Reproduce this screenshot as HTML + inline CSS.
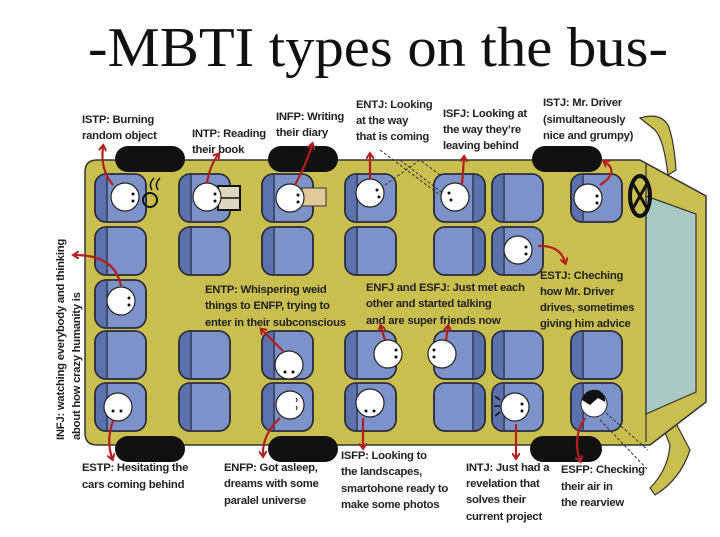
<!DOCTYPE html>
<html><head><meta charset="utf-8"><style>
html,body{margin:0;padding:0;background:#fff;}
svg{display:block}
.t{font-family:"Liberation Sans",sans-serif;font-weight:bold;font-size:11.3px;fill:#222;letter-spacing:-0.25px}
</style></head><body>
<svg width="720" height="537" viewBox="0 0 720 537" xmlns="http://www.w3.org/2000/svg">
<defs>
<marker id="ah" markerWidth="8" markerHeight="8" refX="4" refY="4" orient="auto" markerUnits="userSpaceOnUse">
<path d="M0,0 L6,4 L0,8" fill="none" stroke="#b21e1e" stroke-width="2"/></marker>
<g id="seat"><rect x="0" y="0" width="51" height="48" rx="11" fill="#7d92c9" stroke="#2a2a3a" stroke-width="1.6"/><path d="M11,1 L11,47 L10,47 Q1,47 1,37 L1,11 Q1,1 10,1 Z" fill="#5b72ad"/><line x1="12" y1="1" x2="12" y2="47" stroke="#1f2540" stroke-width="1.3"/><rect x="0" y="0" width="51" height="48" rx="11" fill="none" stroke="#2a2a3a" stroke-width="1.6"/></g>
<g id="seatR"><rect x="0" y="0" width="51" height="48" rx="11" fill="#7d92c9" stroke="#2a2a3a" stroke-width="1.6"/><path d="M40,1 L40,47 L41,47 Q50,47 50,37 L50,11 Q50,1 41,1 Z" fill="#5b72ad"/><line x1="39" y1="1" x2="39" y2="47" stroke="#1f2540" stroke-width="1.3"/><rect x="0" y="0" width="51" height="48" rx="11" fill="none" stroke="#2a2a3a" stroke-width="1.6"/></g>
</defs>
<text x="88" y="66" textLength="580" lengthAdjust="spacingAndGlyphs" font-family="Liberation Serif,serif" font-size="56" fill="#111">-MBTI types on the bus-</text>

<!-- mirror pieces -->
<path d="M640,118 Q660,112 668,125 Q674,140 676,170 L668,175 Q664,140 655,130 Z" fill="#c9bf4f" stroke="#333" stroke-width="1.2"/>
<path d="M668,408 L690,450 Q680,480 655,495 L650,488 Q668,470 670,445 L660,420 Z" fill="#c9bf4f" stroke="#333" stroke-width="1.2"/>
<!-- body -->
<path d="M85,172 Q85,160 97,160 L640,160 L706,196 L706,402 L650,445 L97,445 Q85,445 85,433 Z" fill="#c9bf4f" stroke="#333" stroke-width="1.5"/>
<path d="M646,196 L696,214 L696,392 L646,414 Z" fill="#a9c8c0" stroke="#333" stroke-width="1.2"/>
<line x1="646" y1="164" x2="646" y2="442" stroke="#333" stroke-width="1.2"/>
<!-- wheel -->
<ellipse cx="640" cy="196" rx="10" ry="20" fill="none" stroke="#111" stroke-width="4"/>
<path d="M632,182 L648,210 M648,182 L632,210" stroke="#111" stroke-width="3"/>
<!-- tires -->
<rect x="115" y="146" width="70" height="26" rx="13" fill="#111"/>
<rect x="268" y="146" width="70" height="26" rx="13" fill="#111"/>
<rect x="532" y="146" width="70" height="26" rx="13" fill="#111"/>
<rect x="115" y="436" width="70" height="26" rx="13" fill="#111"/>
<rect x="268" y="436" width="70" height="26" rx="13" fill="#111"/>
<rect x="530" y="436" width="72" height="26" rx="13" fill="#111"/>
<!-- seats -->
<use href="#seat" x="95" y="174"/><use href="#seat" x="95" y="227"/><use href="#seat" x="95" y="280"/><use href="#seat" x="95" y="331"/><use href="#seat" x="95" y="383"/>
<use href="#seat" x="179" y="174"/><use href="#seat" x="179" y="227"/><use href="#seat" x="179" y="331"/><use href="#seat" x="179" y="383"/>
<use href="#seat" x="262" y="174"/><use href="#seat" x="262" y="227"/><use href="#seat" x="262" y="331"/><use href="#seat" x="262" y="383"/>
<use href="#seat" x="345" y="174"/><use href="#seat" x="345" y="227"/><use href="#seat" x="345" y="331"/><use href="#seat" x="345" y="383"/>
<use href="#seatR" x="434" y="174"/><use href="#seatR" x="434" y="227"/><use href="#seatR" x="434" y="331"/><use href="#seatR" x="434" y="383"/>
<use href="#seat" x="492" y="174"/><use href="#seat" x="492" y="227"/><use href="#seat" x="492" y="331"/><use href="#seat" x="492" y="383"/>
<use href="#seat" x="571" y="174"/><use href="#seat" x="571" y="331"/><use href="#seat" x="571" y="383"/>
<!-- props -->
<rect x="218" y="186" width="22" height="24" fill="#ddd6c0" stroke="#111" stroke-width="2"/><line x1="218" y1="198" x2="240" y2="198" stroke="#111" stroke-width="1.5"/>
<rect x="302" y="188" width="24" height="18" fill="#e2c99a" stroke="#333"/>
<circle cx="150" cy="200" r="7" fill="none" stroke="#111" stroke-width="2"/><path d="M152,190 q-4,-6 2,-12 M158,190 q-4,-6 2,-12" fill="none" stroke="#111" stroke-width="1.5"/>
<!-- dashed sight lines -->
<g stroke="#333" stroke-dasharray="3,2" stroke-width="1" fill="none">
<path d="M385,185 L420,160 L440,175 M400,160 L445,195 M380,150 L440,195"/>
<path d="M606,413 L648,450 M600,420 L648,470"/>
</g>
<!-- faces -->
<g fill="#fff" stroke="#222" stroke-width="1.2">
<circle cx="125" cy="197" r="14"/><circle cx="207" cy="197" r="14"/><circle cx="290" cy="198" r="14"/><circle cx="370" cy="193" r="14"/>
<circle cx="455" cy="197" r="14"/><circle cx="588" cy="198" r="14"/><circle cx="518" cy="250" r="14"/><circle cx="121" cy="301" r="14"/>
<circle cx="289" cy="365" r="14"/><circle cx="290" cy="405" r="14"/><circle cx="388" cy="354" r="14"/><circle cx="442" cy="354" r="14"/>
<circle cx="370" cy="403" r="14"/><circle cx="515" cy="407" r="14"/><circle cx="118" cy="407" r="14"/>
</g>
<circle cx="594" cy="404" r="13" fill="#fff" stroke="#222"/><path d="M582,400 Q585,388 598,390 Q606,394 605,402 L598,398 L590,405 Z" fill="#111"/>
<g fill="#111"><circle cx="133" cy="194" r="1.5"/><circle cx="133" cy="201" r="1.5"/><circle cx="215" cy="194" r="1.5"/><circle cx="215" cy="201" r="1.5"/><circle cx="298" cy="195" r="1.5"/><circle cx="298" cy="202" r="1.5"/><circle cx="377" cy="190" r="1.5"/><circle cx="379" cy="197" r="1.5"/><circle cx="449" cy="193" r="1.5"/><circle cx="451" cy="200" r="1.5"/><circle cx="597" cy="196" r="1.5"/><circle cx="597" cy="203" r="1.5"/><circle cx="526" cy="247" r="1.5"/><circle cx="526" cy="254" r="1.5"/><circle cx="129" cy="298" r="1.5"/><circle cx="129" cy="305" r="1.5"/><circle cx="285" cy="372" r="1.5"/><circle cx="293" cy="372" r="1.5"/><circle cx="396" cy="350" r="1.5"/><circle cx="396" cy="357" r="1.5"/><circle cx="434" cy="350" r="1.5"/><circle cx="434" cy="357" r="1.5"/><circle cx="366" cy="411" r="1.5"/><circle cx="374" cy="411" r="1.5"/><circle cx="522" cy="404" r="1.5"/><circle cx="522" cy="411" r="1.5"/><circle cx="113" cy="411" r="1.5"/><circle cx="121" cy="411" r="1.5"/></g>
<path d="M296,398 q2,2 0,4 M296,406 q2,2 0,4" stroke="#222" fill="none"/>
<path d="M500,400 L495,396 M500,406 L494,406 M500,412 L495,416" stroke="#111" stroke-width="1.5"/>
<!-- arrows -->
<g fill="none" stroke="#b21e1e" stroke-width="2.2" marker-end="url(#ah)">
<path d="M113,185 Q100,170 103,147"/>
<path d="M207,183 Q210,165 218,155"/>
<path d="M295,185 Q308,160 312,145"/>
<path d="M370,179 L370,155"/>
<path d="M462,184 L464,158"/>
<path d="M600,185 Q620,172 605,162"/>
<path d="M538,246 Q560,245 565,262"/>
<path d="M121,286 Q115,255 75,255"/>
<path d="M283,351 Q272,340 262,330"/>
<path d="M385,340 L381,327"/>
<path d="M446,340 L448,327"/>
<path d="M113,421 Q106,440 112,458"/>
<path d="M280,418 Q262,435 263,455"/>
<path d="M363,418 L363,447"/>
<path d="M516,424 L516,457"/>
<path d="M585,418 Q572,438 580,460"/>
</g>
<!-- labels -->
<text class="t" x="82" y="123">ISTP: Burning</text><text class="t" x="82" y="139">random object</text>
<text class="t" x="192" y="137">INTP: Reading</text><text class="t" x="192" y="153">their book</text>
<text class="t" x="276" y="120">INFP: Writing</text><text class="t" x="276" y="136">their diary</text>
<text class="t" x="356" y="108">ENTJ: Looking</text><text class="t" x="356" y="124">at the way</text><text class="t" x="356" y="140">that is coming</text>
<text class="t" x="443" y="117">ISFJ: Looking at</text><text class="t" x="443" y="133">the way they’re</text><text class="t" x="443" y="149">leaving behind</text>
<text class="t" x="543" y="106">ISTJ: Mr. Driver</text><text class="t" x="543" y="123">(simultaneously</text><text class="t" x="543" y="139">nice and grumpy)</text>
<text class="t" transform="translate(64,440) rotate(-90)">INFJ: watching everybody and thinking</text>
<text class="t" transform="translate(80,440) rotate(-90)">about how crazy humanity is</text>
<text class="t" x="205" y="293">ENTP: Whispering weid</text><text class="t" x="205" y="309">things to ENFP, trying to</text><text class="t" x="205" y="326">enter in their subconscious</text>
<text class="t" x="366" y="291">ENFJ and ESFJ: Just met each</text><text class="t" x="366" y="307">other and started talking</text><text class="t" x="366" y="324">and are super friends now</text>
<text class="t" x="540" y="279">ESTJ: Cheching</text><text class="t" x="540" y="295">how Mr. Driver</text><text class="t" x="540" y="311">drives, sometimes</text><text class="t" x="540" y="327">giving him advice</text>
<text class="t" x="82" y="471">ESTP: Hesitating the</text><text class="t" x="82" y="488">cars coming behind</text>
<text class="t" x="224" y="471">ENFP: Got asleep,</text><text class="t" x="224" y="487">dreams with some</text><text class="t" x="224" y="504">paralel universe</text>
<text class="t" x="341" y="459">ISFP: Looking to</text><text class="t" x="341" y="475">the landscapes,</text><text class="t" x="341" y="492">smartohone ready to</text><text class="t" x="341" y="508">make some photos</text>
<text class="t" x="466" y="471">INTJ: Just had a</text><text class="t" x="466" y="487">revelation that</text><text class="t" x="466" y="503">solves their</text><text class="t" x="466" y="520">current project</text>
<text class="t" x="561" y="473">ESFP: Checking</text><text class="t" x="561" y="490">their air in</text><text class="t" x="561" y="506">the rearview</text>
</svg>
</body></html>
